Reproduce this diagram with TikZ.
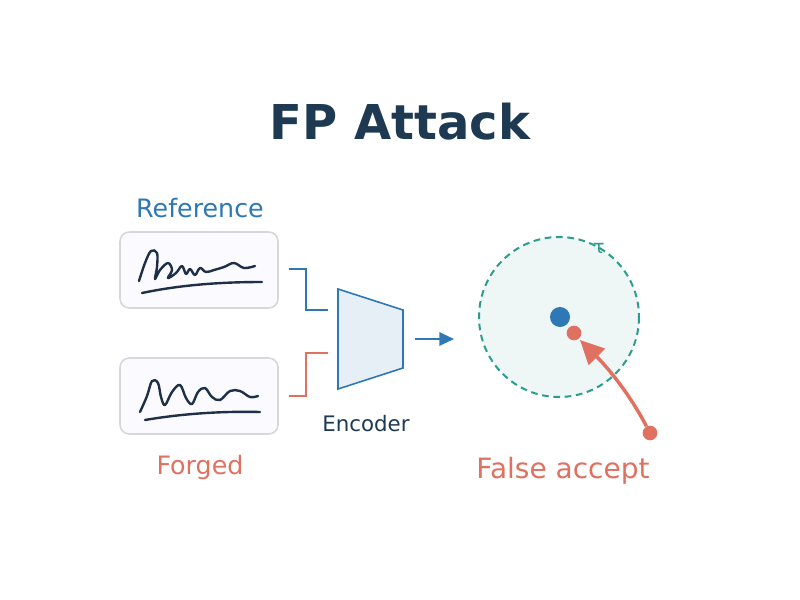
\documentclass[tikz,border=0pt]{standalone}
\usepackage{fontspec}
\setmainfont{DejaVu Sans}
\usetikzlibrary{arrows.meta}
\definecolor{navy}{HTML}{1E3A52}
\definecolor{blu}{HTML}{2E78B5}
\definecolor{red}{HTML}{E07060}
\definecolor{teal}{HTML}{2A9D8F}
\definecolor{ink}{HTML}{1E3048}
\begin{document}
\begin{tikzpicture}[x=0.75pt,y=-0.75pt,
  box/.style={draw=black!15!blue!8!gray!30,fill=blue!2,line width=1.2pt,rounded corners=7pt},
  sig/.style={draw=ink,line width=1.8pt,line cap=round,line join=round},
  lbl/.style={font=\fontsize{19}{22}\selectfont}]
\useasboundingbox (0,0) rectangle (800,600);
\node (title) at (400,122) {\fontsize{36}{40}\selectfont\bfseries\color{navy}FP Attack};
\node[lbl,text=blu] (ref) at (200,208) {Reference};
\node[lbl,text=red] (forg) at (200,468) {Forged};
\draw[box] (120,232) rectangle (278,308);
\draw[box] (120,358) rectangle (278,434);
\draw[sig] plot[smooth,tension=0.6] coordinates {(139,281) (145,263) (151,251) (157,253) (157,267) (155,279) (160,270) (168,263) (172,270) (168,278) (176,273) (182,266) (186,274) (190,269) (195,275) (200,268) (206,272) (214,270) (224,267) (234,263) (244,268) (255,266)};
\draw[sig] (142,293) .. controls (180,285) and (220,282) .. (262,282);
\draw[sig] plot[smooth,tension=0.6] coordinates {(140,412) (147,396) (152,381) (158,383) (161,397) (165,405) (172,392) (180,385) (186,398) (192,404) (198,392) (205,388) (212,397) (220,400) (230,391) (240,391) (250,397) (258,396)};
\draw[sig] (145,420) .. controls (180,414) and (220,411) .. (260,412);
\node[draw=blu,fill=blu!12,line width=1.2pt,minimum size=0pt,inner sep=0pt] (enc) at (370,339) {};
\draw[draw=blu,fill=blu!12,line width=1.2pt] (338,289) -- (403,310) -- (403,368) -- (338,389) -- cycle;
\coordinate (e1) at (328,310); \coordinate (e2) at (328,353);
\coordinate (s1) at (289,269); \coordinate (s2) at (289,396);
\draw[blu,line width=1.5pt] (s1) -- (306,269) -- (306,310) -- (e1);
\draw[red,line width=1.5pt] (s2) -- (306,396) -- (306,353) -- (e2);
\coordinate (a1) at (415,339); \coordinate (a2) at (454,339);
\draw[blu,line width=1.5pt,-{Triangle[length=11pt,width=10pt]}] (a1) -- (a2);
\node[font=\fontsize{16}{19}\selectfont,text=navy] (enl) at (366,424) {Encoder};
\draw[teal,fill=teal!8,line width=1.5pt,dash pattern=on 5pt off 3.5pt] (559,317) circle (80);
\node[text=teal,font=\fontsize{14}{16}\selectfont] (tau) at (599,248) {τ};
\node[circle,fill=blu,inner sep=0pt,minimum size=15pt] (c) at (560,317) {};
\node[circle,fill=red,inner sep=0pt,minimum size=11pt] (f) at (574,333) {};
\node[circle,fill=red,inner sep=0pt,minimum size=11pt] (g) at (650,433) {};
\draw[red,line width=2.6pt,-{Triangle[length=18pt,width=17pt]}] (g) .. controls (630,395) and (610,370) .. (580,340);
\node[text=red,font=\fontsize{21}{25}\selectfont] (fa) at (563,471) {False accept};
\end{tikzpicture}
\end{document}
